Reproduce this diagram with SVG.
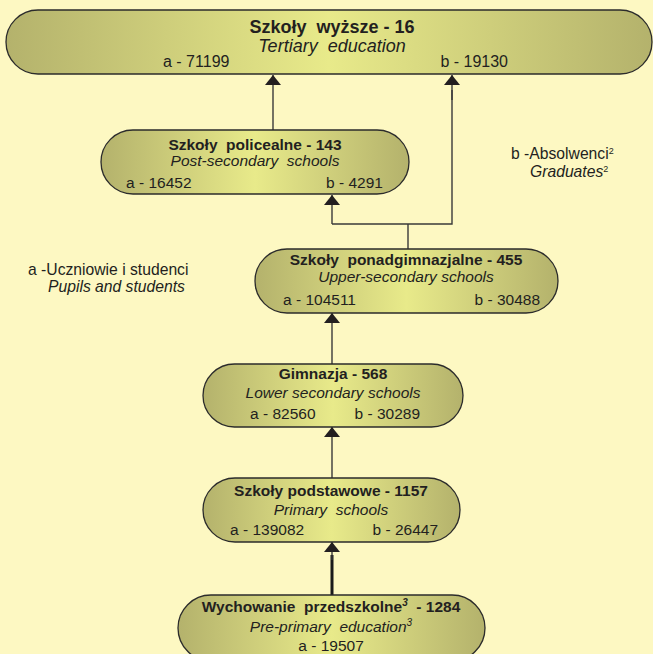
<svg xmlns="http://www.w3.org/2000/svg" width="653" height="654" viewBox="0 0 653 654">
<defs>
<linearGradient id="g" x1="0" y1="0" x2="1" y2="0">
<stop offset="0" stop-color="#B4B26C"/>
<stop offset="0.5" stop-color="#E8EA8A"/>
<stop offset="1" stop-color="#B4B26C"/>
</linearGradient>
<marker id="ah" viewBox="0 0 10 16" refX="10" refY="8" markerWidth="10" markerHeight="16" markerUnits="userSpaceOnUse" orient="auto">
<path d="M0,0 L10,8 L0,16 Z" fill="#231F20"/>
</marker>
</defs>
<style>
.n{fill:url(#g);stroke:#2b2b2b;stroke-width:1.3}
text{font-family:"Liberation Sans",Arial,sans-serif;fill:#231F20;white-space:pre}
.t{font-weight:bold;font-size:15.5px;text-anchor:middle}
.i{font-style:italic;font-size:15.5px;text-anchor:middle}
.v{font-size:15.5px}
.T{font-weight:bold;font-size:18px;text-anchor:middle}
.I{font-style:italic;font-size:18px;text-anchor:middle}
.V{font-size:16px}
.l{font-size:15.7px}
.c{fill:none;stroke:#3a3a3a;stroke-width:1.4}
.k{fill:none;stroke:#1a1a1a;stroke-width:3}
</style>
<rect width="653" height="654" fill="#FDF8C2"/>

<g id="connectors">
<path class="c" d="M273,130 V75" marker-end="url(#ah)"/>
<path class="c" d="M408,249 V224 M332,224 H452 V90"/>
<path class="c" d="M452,100 V75" marker-end="url(#ah)"/>
<path class="c" d="M332,224 V195" marker-end="url(#ah)"/>
<path class="c" d="M332,364 V313" marker-end="url(#ah)"/>
<path class="c" d="M332,478 V427" marker-end="url(#ah)"/>
<path class="k" d="M332,595 V555"/>
<path class="c" d="M332,560 V542" marker-end="url(#ah)"/>
</g>

<g id="tertiary">
<rect class="n" x="6" y="10" width="646" height="64" rx="32"/>
<text class="T" x="332" y="33" xml:space="preserve">Szkoły  wyższe - 16</text>
<text class="I" x="332" y="52" xml:space="preserve">Tertiary  education</text>
<text class="V" x="163" y="67">a - 71199</text>
<text class="V" x="508" y="67" text-anchor="end">b - 19130</text>
</g>

<g id="postsecondary">
<rect class="n" x="101" y="130" width="308" height="64" rx="32"/>
<text class="t" x="255" y="150" xml:space="preserve">Szkoły  policealne - 143</text>
<text class="i" x="255" y="166" xml:space="preserve">Post-secondary  schools</text>
<text class="v" x="126" y="188">a - 16452</text>
<text class="v" x="383" y="188" text-anchor="end">b - 4291</text>
</g>

<g id="legend-b">
<text class="l" x="511" y="159">b -Absolwenci<tspan font-size="9" dy="-5">2</tspan></text>
<text class="l" x="530" y="177" font-style="italic">Graduates<tspan font-size="9" dy="-5" font-style="normal">2</tspan></text>
</g>

<g id="legend-a">
<text class="l" x="28" y="275">a -Uczniowie i studenci</text>
<text class="l" x="48" y="292" font-style="italic">Pupils and students</text>
</g>

<g id="uppersecondary">
<rect class="n" x="255" y="249" width="303" height="64" rx="32"/>
<text class="t" x="406" y="265" xml:space="preserve">Szkoły  ponadgimnazjalne - 455</text>
<text class="i" x="406" y="282">Upper-secondary schools</text>
<text class="v" x="283" y="305">a - 104511</text>
<text class="v" x="540" y="305" text-anchor="end">b - 30488</text>
</g>

<g id="lowersecondary">
<rect class="n" x="203" y="364" width="260" height="63" rx="31.5"/>
<text class="t" x="333" y="379">Gimnazja - 568</text>
<text class="i" x="333" y="398">Lower secondary schools</text>
<text class="v" x="250" y="419">a - 82560</text>
<text class="v" x="420" y="419" text-anchor="end">b - 30289</text>
</g>

<g id="primary">
<rect class="n" x="203" y="478" width="257" height="64" rx="32"/>
<text class="t" x="331" y="496">Szkoły podstawowe - 1157</text>
<text class="i" x="331" y="515" xml:space="preserve">Primary  schools</text>
<text class="v" x="230" y="535">a - 139082</text>
<text class="v" x="438" y="535" text-anchor="end">b - 26447</text>
</g>

<g id="preprimary">
<rect class="n" x="178" y="595" width="307" height="66" rx="33"/>
<text class="t" x="331" y="612" xml:space="preserve">Wychowanie  przedszkolne<tspan font-size="10" font-style="italic" dy="-6">3</tspan><tspan dy="6">  - 1284</tspan></text>
<text class="i" x="331" y="632" xml:space="preserve">Pre-primary  education<tspan font-size="10" dy="-6">3</tspan></text>
<text class="v" x="331" y="651" text-anchor="middle">a - 19507</text>
</g>
</svg>
